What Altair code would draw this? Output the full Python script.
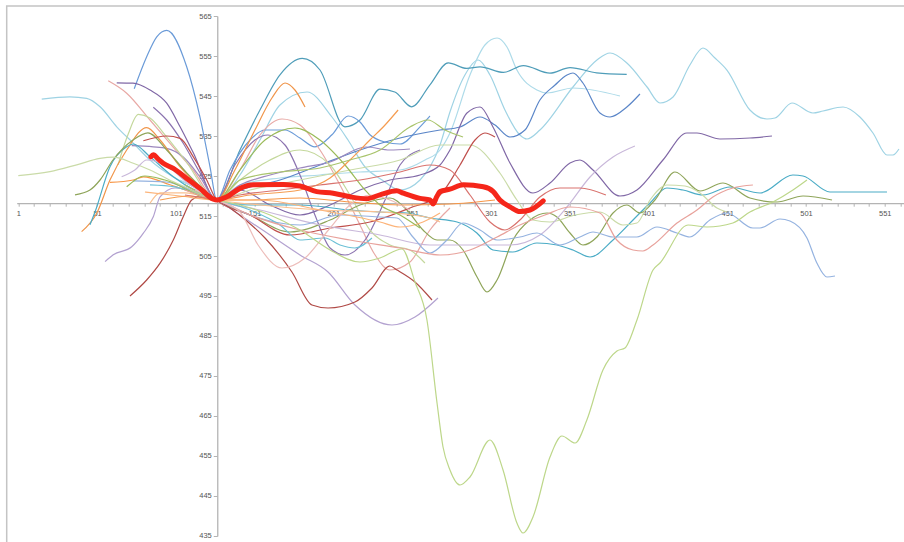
import altair as alt
import pandas as pd

# Every trace passes through the common alignment point at sample 127.
PIVOT = [(127, 519)]

# ---- traces: (sample, value) pairs -------------------------------------
blue_arc = [(74.6, 546.8), (82.5, 554.8), (88.9, 559.8), (95.2, 561.4), (107.9, 552.3),
            (116.3, 539.8), (122.7, 527.3)] + PIVOT + [
            (135.4, 526.5), (148.1, 534), (157.6, 536.5), (170.3, 536.5), (179.8, 534.5),
            (189.3, 532.3), (200.1, 535.3), (210.3, 540), (217.9, 538.5), (224.2, 535.3),
            (233.8, 533.5), (243.3, 533), (256, 537.3), (262.3, 540)]

sky_long = [(15.9, 544.2), (33.8, 544.8), (44.4, 544.4), (52.9, 542.3), (63.5, 537.3),
            (73.8, 533.3), (84.6, 529), (99.2, 524.8), (116.3, 521.5)] + PIVOT + [
            (141.7, 525.25), (154.4, 534), (167.1, 542.75), (184.3, 546), (200.1, 539.75),
            (210.3, 534), (221.1, 527.25), (231.9, 524), (243.3, 521.5), (256, 524),
            (268.7, 532.75), (275, 541), (284.5, 550.25), (292.9, 554), (300.4, 550.25),
            (309.9, 541.5), (319.4, 535.25), (323.9, 534.25), (332.1, 536.5), (353.1, 547.25),
            (368.3, 554), (376.6, 555.75), (387.3, 553.25), (400.1, 547.25), (408.3, 543.25),
            (416.6, 544.75), (427.3, 552.75), (435.6, 557), (443.2, 554.5), (450.8, 551.5),
            (465.4, 541.5), (476.2, 539.25), (481.3, 539.5), (492.1, 543.25), (505.4, 540.75),
            (511.8, 541.25), (524.5, 542.25), (535.2, 539.75), (543.5, 535.75), (552.4, 530.25),
            (556.2, 530.25), (560, 531.75)]

pink_hump = [(58.1, 548.8), (69.8, 545.7), (84.6, 539), (99.2, 532.3), (111.9, 526.5)] + PIVOT + [
             (141.7, 526.5), (154.4, 535.25), (168.4, 539.25), (179.8, 537.75), (192.5, 531.5),
             (205.2, 522.75), (217.9, 512.75), (227.5, 505.25), (236.9, 501.5), (249.6, 503.5),
             (262.3, 511.5), (275, 517)]

purple_long = [(63.5, 548.3), (73.8, 548.2), (84.6, 546.5), (95.2, 543.2), (103.7, 537.3),
               (112.1, 530.8)] + PIVOT + [
               (141.7, 521.5), (160.8, 517.75), (179.8, 515.25), (198.9, 517.75), (217.9, 521.5),
               (236.9, 524), (256, 525.25), (268.7, 527.75), (275, 531.5), (285.8, 540.75),
               (294.1, 542.25), (302.3, 537.25), (313.1, 528.25), (327.7, 520.75), (338.5, 523.25),
               (351.2, 528.25), (357.5, 529), (365.8, 526.5), (382.9, 520), (393.7, 521.5),
               (410.2, 529), (425.4, 535.75), (431.8, 535.75), (446.4, 534.25), (465.4, 534.5),
               (479.4, 535)]

purple_dip = [(86.7, 542.2), (95.2, 539), (105.5, 533.3), (116.3, 525.8)] + PIVOT + [
              (138.5, 527.75), (151.2, 534), (159.5, 535.25), (170.3, 532.75), (179.8, 525.25),
              (189.3, 515.25), (198.9, 507), (208.4, 505.25), (221.1, 509), (233.8, 519),
              (243.3, 527.75), (256, 531.5)]

green_light = [(64.3, 527.8), (70.6, 535.3), (77.2, 540.4), (84.6, 539.5), (94.1, 535.3),
               (106.8, 529)] + PIVOT + [
               (141.7, 524), (160.8, 529), (179.8, 531.5), (198.9, 527.75), (211.5, 520.25),
               (224.2, 511.5), (236.9, 507.75), (249.6, 506.5), (259.1, 503.25)]

orange_peak = [(41.2, 511.1), (50.8, 515.7), (59.2, 524), (69.8, 531.5), (82.5, 537.1),
               (91, 534), (103.7, 527.3), (116.3, 522.3)] + PIVOT + [
               (138.5, 526.5), (151.2, 536.5), (162, 544.5), (170.3, 548.25), (176.6, 546.5),
               (183, 542.25)]

teal_long = [(46.5, 512.8), (49.7, 516), (59.2, 527.3), (69.8, 532.3), (74, 533),
             (84.6, 529.8), (99.4, 524.8)] + PIVOT + [
             (148.1, 517.75), (179.8, 517.75), (211.5, 516.5), (230.6, 516), (247.7, 515.75),
             (262.3, 514.5), (279.5, 513.5), (292.1, 510.75), (302.3, 506.5), (314.9, 506),
             (330.2, 508.25), (342.9, 507.75), (353.1, 506.5), (363.9, 504.75), (378.5, 509),
             (391.2, 514), (402, 518.25), (412.7, 522), (422.9, 521.5), (435.6, 520.25),
             (452.7, 522.25), (471.8, 520.75), (492.7, 525.25), (499.1, 525), (516.2, 521),
             (552.4, 521)]

olive_wave = [(37, 520.3), (46.5, 521.5), (52.9, 524), (61.1, 529), (73.8, 534), (83.3, 535.8),
              (95.2, 531.5), (107.9, 525.8)] + PIVOT + [
              (148.1, 515.25), (173.5, 511), (198.9, 514), (217.9, 517.75), (236.9, 519.5),
              (247.7, 516.5), (257.9, 511.5), (266.8, 509), (275, 509), (283.3, 506.5),
              (292.2, 499.75), (298.5, 496), (304.9, 499), (315, 509), (325.8, 514),
              (336.6, 515.75), (342.9, 514.75), (351.2, 510.75), (359.4, 507.75), (368.3, 509.75),
              (378.5, 515.75), (387.3, 517.75), (395.6, 515.75), (405.1, 519), (417.8, 526),
              (433.7, 521.25), (448.3, 523.25), (465.4, 519.5), (482.6, 518.5), (499.1, 520),
              (517.5, 519)]

pale_green = [(1, 525.1), (21.1, 526.1), (38.1, 527.8), (52.9, 529.4), (61.3, 529.7),
              (74, 528.2), (84.6, 526.5), (99.2, 523.6), (116.3, 520.7)] + PIVOT + [
              (148.1, 521.5), (179.8, 524), (211.5, 526.5), (243.3, 529), (268.7, 532.75),
              (287.7, 532.75), (306.7, 525.75), (317.5, 519), (327.7, 514), (338.5, 513.5),
              (354.4, 515.25), (370.2, 516), (384.8, 512.75), (393.7, 513.25), (402, 519),
              (412.7, 522.75), (424.2, 522.5), (433.7, 520.75), (444.5, 517), (450.8, 516)]

red_short = [(80.4, 533.8), (95.2, 535), (103.7, 534.4), (112.1, 529.8), (120.6, 524)] + PIVOT + [
             (148.1, 515.25), (173.5, 510.25), (198.9, 512), (224.2, 513.5), (249.6, 517),
             (268.7, 520.25), (281.4, 527.75), (290.9, 534), (297.2, 535.75), (303.6, 534.75)]

purple_flat = [(73, 532.6), (86.7, 532.3), (95.2, 531.9), (105.5, 529.8), (116.3, 524.8)] + PIVOT + [
               (141.7, 522.75), (160.8, 525.25), (179.8, 527), (198.9, 528.5), (221.7, 532.25),
               (236.9, 531.5), (249.6, 531.75)]

lavender_rise = [(66.6, 524.8), (75, 526.5), (82.5, 529), (94.1, 527.8), (110, 522.8)] + PIVOT + [
                 (154.4, 516.5), (192.5, 512.75), (230.6, 510.25), (262.3, 507.75), (287.7, 507.75),
                 (313.1, 507.75), (332.1, 510.25), (349.3, 517.25), (363.9, 524.75), (378.5, 529.75),
                 (392.4, 532.5)]

lavender_low = [(56.1, 503.6), (61.3, 505.3), (73, 507.3), (80.4, 510.7), (86.7, 514.8),
                (91, 519.8), (100.5, 522), (113.2, 521)] + PIVOT + [
                (141.7, 515.25), (160.8, 510.25), (179.8, 505.25), (197.6, 501), (214.7, 492.75),
                (238.2, 487.75), (252.8, 489.75), (267.4, 494.5)]

brown_low = [(71.9, 495), (82.5, 499), (91, 503.2), (99.4, 509), (105.7, 514.8), (111.1, 519),
             (119.5, 520.3)] + PIVOT + [
             (146.8, 513.5), (157.6, 509.5), (174.7, 501), (187.4, 492.75), (197.6, 492),
             (214.7, 493.5), (225.5, 497), (236.9, 502.5), (241.4, 501.5), (252.8, 498.5),
             (263.6, 494)]

orange_flat = [(59.2, 523.4), (74, 524), (80.4, 524.8), (97.3, 522.8), (116.3, 520.3)] + PIVOT + [
               (148.1, 519), (179.8, 519.5), (211.5, 518.5), (243.3, 517.75), (275, 518),
               (303.6, 519)]

orange_pale = [(84.6, 518.2), (91, 520.8), (106.8, 520.8)] + PIVOT + [
               (154.4, 517.75), (192.5, 516.5), (230.6, 516), (262.3, 514.5), (268.7, 513.5)]

cornflower_long = [(73.8, 523.8), (94.8, 523.5), (113.2, 521)] + PIVOT + [
                   (148.1, 515.25), (179.8, 512.75), (205.2, 515.25), (230.6, 514.75),
                   (241.4, 514.5), (251.5, 509.75), (262.3, 505.75), (273.1, 509), (283.3, 513.25),
                   (294.1, 511.5), (304.9, 509), (319.4, 509.75), (330.2, 510.75), (344.8, 507.75),
                   (357.5, 509.75), (365.8, 511), (378.5, 509.75), (393.7, 509.75), (406.4, 512.25),
                   (419.1, 510.75), (427.3, 509.75), (440, 514), (450.8, 515.75), (467.3, 512),
                   (471.8, 512), (484.5, 514.25), (490.8, 513.75), (501.6, 509.5), (507.9, 503.25),
                   (514.3, 499.75), (519.4, 500)]

teal_dip = [(84.6, 522.8), (100.5, 522.3), (116.3, 520.3)] + PIVOT + [
            (148.1, 516.5), (167.1, 512.75), (179.8, 509), (195.7, 509.5), (205.2, 507.75),
            (214.7, 507), (225.5, 509.5)]

apricot_dip = [(81.4, 521), (103.7, 520)] + PIVOT + [
               (154.4, 519), (192.5, 516.5), (230.6, 513.5), (243.3, 512.25), (257.9, 513.5),
               (268.7, 515.75)]

green_hump = [(69.8, 522.3), (81.4, 525), (94.1, 524)] + PIVOT + [
              (141.7, 526.5), (157.6, 534), (176.6, 537), (192.5, 534), (208.4, 527.75),
              (221.1, 521.5), (230.6, 517.75), (243.3, 515.25), (256, 512)]

orange_climb = [(91, 519), (110, 520)] + PIVOT + [
                (148.1, 520.25), (179.8, 521.5), (198.9, 524.5), (211.5, 529), (224.2, 534),
                (233.8, 537.75), (242.1, 541.5)]

sky_high = [(103.7, 524), (116.3, 521.5)] + PIVOT + [
            (141.7, 522.75), (167.1, 524.5), (192.5, 525.25), (217.9, 526), (243.3, 526.5),
            (259.2, 529), (268.7, 531.5), (275, 535.75), (287.7, 550.25), (297.2, 557.75),
            (304.9, 559.5), (311.2, 557.25), (317.5, 551.5), (330.2, 546.5), (336.6, 545.75),
            (353.1, 547), (382.9, 545)]

blue_mid = [(106.8, 522.75), (119.5, 520.25)] + PIVOT + [
            (141.7, 521.5), (167.1, 524), (192.5, 527.75), (217.9, 531.5), (243.3, 534.5),
            (268.7, 536.5), (281.4, 537.25), (294.1, 539.75), (303.6, 537.75), (313.1, 534.75),
            (322.6, 536.5), (332.1, 544), (341.7, 547.75), (349.3, 550.25), (353.1, 550.75),
            (359.4, 548.25), (370.2, 540.75), (376.6, 539.75), (387.3, 542.25), (395.6, 545.5)]

teal_high = [(103.7, 525.25), (116.3, 521.5)] + PIVOT + [
             (141.7, 531.5), (154.4, 541.5), (167.1, 550.3), (181.3, 554.4), (192.5, 551.5),
             (208.3, 537.3), (217.9, 539), (230.6, 546.7), (240, 546), (250.7, 542.3),
             (262.3, 547.8), (273.9, 553.3), (285.6, 551.9), (294.1, 552.3), (308.9, 550.9),
             (321.6, 552.6), (338.5, 550.7), (351.2, 552.1), (368.1, 550.8), (387.2, 550.4)]

salmon_long = [(106.8, 521.5), (119.5, 519.75)] + PIVOT + [
               (148.1, 515.25), (179.8, 511.5), (211.5, 509), (243.3, 507), (268.7, 505.25),
               (287.7, 506.5), (304.9, 509.75), (319.4, 512.75), (335.3, 515.25), (351.2, 517.25),
               (370.2, 515.75), (380.9, 509), (391.2, 506.5), (397.5, 506.25), (403.9, 507.75),
               (419.1, 513.25), (431.8, 516.5), (441.9, 519.75), (454.6, 522), (467.3, 522.75)]

rose_mid = [(106.8, 520.25), (119.5, 519.5)] + PIVOT + [
            (141.7, 520.25), (167.1, 521.5), (192.5, 522.75), (217.9, 524), (243.3, 526),
            (262.3, 527.75), (275, 526.5), (287.7, 520.25), (300.4, 513.5), (309.9, 511.5),
            (319.4, 514), (332.1, 519.75), (344.8, 522), (357.5, 522), (374, 520.25)]

green_mid = [(106.8, 522.75), (119.5, 520.25)] + PIVOT + [
             (141.7, 524), (167.1, 526), (192.5, 527), (211.5, 529), (230.6, 531.5),
             (249.6, 537.25), (261, 539), (271.8, 536.5), (283.3, 534.75)]

blush_dip = [(113.2, 521.5)] + PIVOT + [
             (141.7, 516), (153.2, 507.75), (168.4, 502), (183, 504.5), (198.9, 512),
             (211.5, 517.75), (224.2, 520.25), (236.9, 519), (249.6, 516.5)]

lime_deep = [(110, 521.5), (119.5, 520)] + PIVOT + [
             (141.7, 517.75), (160.8, 515.25), (179.8, 511.5), (198.9, 506.5), (217.9, 503.5),
             (230.6, 504.5), (244.6, 506.75), (252.8, 498.5), (260.4, 489), (266.8, 468.25),
             (270.6, 457.25), (275, 451.5), (281.4, 447.75), (287.7, 449.75), (300.4, 459),
             (308.7, 451.5), (317.5, 438.25), (321.4, 435.75), (327.7, 439.75), (338.5, 454.75),
             (346.1, 460), (354.4, 458.25), (361.9, 464), (372.1, 476.5), (381, 481.25),
             (386.1, 482), (393.7, 489), (403.9, 501.5), (408.3, 503.25), (426.1, 512.75),
             (438.1, 512.25), (454.6, 513.25), (465.4, 516), (480, 518.5), (492.7, 521.5),
             (501.6, 524)]

# The highlighted mean trace, drawn last and thick.
mean_trace = [(85.2, 529.8), (86.7, 530.3), (89.9, 529.2), (93, 528.2), (99.4, 526.9),
              (107.9, 524.4), (116.3, 521.9), (124.8, 519.2)] + PIVOT + [
              (133.3, 519.8), (141.7, 521.9), (150.3, 522.8), (169.4, 522.9), (179.8, 522.5),
              (190.4, 521.1), (200.9, 520.7), (211.5, 519.8), (222.1, 519.3), (230.6, 520.3),
              (241.2, 521.3), (245.4, 520.7), (256, 519.4), (262.3, 519), (264.4, 518),
              (266.6, 519.8), (268.7, 521.1), (275, 521.7), (283.5, 522.8), (296.2, 522.3),
              (302.5, 521.1), (306.7, 519), (313.1, 517.3), (319.4, 516.1), (325.8, 516.5),
              (334.2, 518.8)]

# name, points, colour (drawing order = list order)
series = [
    ("sky_long", sky_long, "#9fd3e4"),
    ("sky_high", sky_high, "#aedbe9"),
    ("teal_high", teal_high, "#4f9db9"),
    ("blue_arc", blue_arc, "#6b9bd8"),
    ("blue_mid", blue_mid, "#5b86c8"),
    ("pink_hump", pink_hump, "#e8a9a5"),
    ("purple_long", purple_long, "#8068a6"),
    ("purple_dip", purple_dip, "#8c74b0"),
    ("purple_flat", purple_flat, "#9c88be"),
    ("green_light", green_light, "#c4d89c"),
    ("orange_peak", orange_peak, "#f0954a"),
    ("teal_long", teal_long, "#4bacc6"),
    ("olive_wave", olive_wave, "#8fa55a"),
    ("pale_green", pale_green, "#cadba8"),
    ("red_short", red_short, "#c0504d"),
    ("lavender_rise", lavender_rise, "#c9b8da"),
    ("lavender_low", lavender_low, "#b3a2d0"),
    ("brown_low", brown_low, "#b04a46"),
    ("orange_flat", orange_flat, "#f79646"),
    ("orange_pale", orange_pale, "#fac090"),
    ("cornflower_long", cornflower_long, "#95b3e0"),
    ("teal_dip", teal_dip, "#6cc0d6"),
    ("apricot_dip", apricot_dip, "#fcb47a"),
    ("green_hump", green_hump, "#9bbb59"),
    ("orange_climb", orange_climb, "#f59d52"),
    ("salmon_long", salmon_long, "#e8a29c"),
    ("rose_mid", rose_mid, "#d9736e"),
    ("green_mid", green_mid, "#a9c46c"),
    ("blush_dip", blush_dip, "#edbdba"),
    ("lime_deep", lime_deep, "#bdd78a"),
]
MEAN_COLOR = "#f5261a"

x_ticks = list(range(1, 562, 10))
y_ticks = list(range(435, 566, 10))

rows = []
for name, pts, _ in series:
    for i, (x, y) in enumerate(pts):
        rows.append({"series": name, "x": x, "y": y, "i": i})
df = pd.DataFrame(rows)
mean_df = pd.DataFrame({"x": [p[0] for p in mean_trace], "y": [p[1] for p in mean_trace],
                        "i": list(range(len(mean_trace)))})

names = [s[0] for s in series]
colors = [s[2] for s in series]

W, H = 887, 520
X_DOMAIN = [0, 563]
Y_DOMAIN = [435, 565]
X_CROSS = 127.3      # category where the vertical axis crosses
Y_CROSS = 518.2      # value where the horizontal axis crosses

x_off = -(H - (Y_DOMAIN[1] - Y_CROSS) / (Y_DOMAIN[1] - Y_DOMAIN[0]) * H)
y_off = -((X_CROSS - X_DOMAIN[0]) / (X_DOMAIN[1] - X_DOMAIN[0]) * W)

axis_style = dict(
    domainColor="#b4b4b4", domainWidth=1.3, tickColor="#b4b4b4", tickWidth=1,
    labelColor="#555555", labelFont="Liberation Sans", labelFontSize=7.5,
    grid=False, title=None, labelFlush=False, labelOverlap=False,
)

x_axis = alt.Axis(
    values=x_ticks, offset=x_off, tickSize=3, labelPadding=3,
    labelExpr="(datum.value - 1) % 50 == 0 ? datum.label : ''",
    format="d", **axis_style,
)
y_axis = alt.Axis(
    values=y_ticks, offset=y_off, tickSize=4, labelPadding=2, format="d", **axis_style,
)

x_scale = alt.Scale(domain=X_DOMAIN, nice=False, zero=False)
y_scale = alt.Scale(domain=Y_DOMAIN, nice=False, zero=False)
x_enc = alt.X("x:Q", scale=x_scale, axis=x_axis)
y_enc = alt.Y("y:Q", scale=y_scale, axis=y_axis)

frame = alt.Chart(pd.DataFrame({"k": [0]})).mark_rect(
    fill="transparent", stroke="#c4c4c4", strokeWidth=1.5
).encode(
    x=alt.value(-10), y=alt.value(-10), x2=alt.value(W + 30), y2=alt.value(H + 30)
)

lines = alt.Chart(df).mark_line(interpolate="monotone", clip=True, strokeWidth=1.2).encode(
    x=x_enc,
    y=y_enc,
    color=alt.Color("series:N", scale=alt.Scale(domain=names, range=colors), legend=None),
    order=alt.Order("i:Q"),
    detail="series:N",
)

mean_line = alt.Chart(mean_df).mark_line(
    interpolate="monotone", clip=True, strokeWidth=5, color=MEAN_COLOR,
    strokeCap="round", strokeJoin="round",
).encode(
    x=x_enc,
    y=y_enc,
    order=alt.Order("i:Q"),
)

chart = alt.layer(frame, lines, mean_line).properties(
    width=W, height=H,
    autosize=alt.AutoSizeParams(type="none"),
    padding={"left": 16.7, "top": 16, "right": 0, "bottom": 6},
    background="white",
).configure_view(stroke=None)

chart.save("out.html", embed_options={"renderer": "svg", "actions": False})
